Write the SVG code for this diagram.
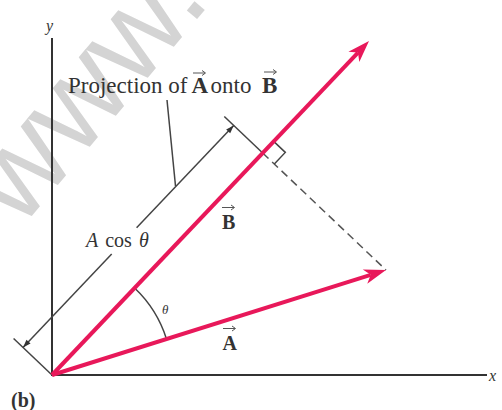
<svg xmlns="http://www.w3.org/2000/svg" xmlns:xlink="http://www.w3.org/1999/xlink" width="502" height="410" viewBox="0 0 502 410">
  <style>
    .axis { stroke: #333; stroke-width: 2; fill: none; }
    .vec { stroke: #e8185a; stroke-width: 4; fill: none; }
    .vechead { fill: #e8185a; }
    .thin { stroke: #444; stroke-width: 1.5; fill: none; }
    .dash { stroke: #555; stroke-width: 1.5; fill: none; stroke-dasharray: 8 5; }
    .lbl { font-family: "Liberation Serif", "Times New Roman", serif; fill: #333; }
    .it { font-style: italic; }
    .bold { font-weight: bold; }
    .varrow { stroke: #555; stroke-width: 1; fill: none; }
    .wm { font-family: "Liberation Sans", Arial, sans-serif; fill: #d4d4d4; }
  </style>
  <defs>
    <path id="head" d="M0,0 L-22,-7.5 L-16,0 L-22,7.5 Z"/>
    <path id="dimhead" d="M0,0 L-8,-2.8 L-8,2.8 Z"/>
    <path id="varr" d="M0,0 H12 M9,-2.5 L12.5,0 L9,2.5"/>
  </defs>
  <rect width="502" height="410" fill="#ffffff"/>

  <!-- watermark -->
  <text class="wm" font-size="125" transform="translate(20,230) rotate(-50)">www.</text>

  <g id="axes">
    <line class="axis" x1="52" y1="38" x2="52" y2="376"/>
    <line class="axis" x1="51" y1="375" x2="487" y2="375"/>
    <text class="lbl it" x="46" y="31" font-size="16" fill="#666">y</text>
    <text class="lbl it" x="489" y="381" font-size="16">x</text>
  </g>

  <g id="connectors">
    <!-- extension lines -->
    <line class="thin" x1="52" y1="375" x2="13.6" y2="338.5"/>
    <line class="thin" x1="262.7" y1="153" x2="224.3" y2="116.5"/>
    <!-- dimension line -->
    <line class="thin" x1="23" y1="347.5" x2="111.7" y2="254.1"/>
    <line class="thin" x1="136.6" y1="227.8" x2="233.7" y2="125.5"/>
    <use href="#dimhead" fill="#333" transform="translate(23,347.5) rotate(133.5)"/>
    <use href="#dimhead" fill="#333" transform="translate(233.7,125.5) rotate(-46.5)"/>
    <!-- leader -->
    <line class="thin" x1="167" y1="100" x2="175.5" y2="186"/>
    <!-- dashed perpendicular -->
    <line class="dash" x1="262.7" y1="153" x2="386" y2="270"/>
    <!-- right angle marker -->
    <path class="thin" d="M273.7,141.4 L285.3,152.4 L274.3,164"/>
    <!-- angle arc -->
    <path class="thin" d="M134.6,288 A120,120 0 0,1 166.5,339"/>
  </g>

  <g id="vectorB">
    <line class="vec" x1="52" y1="375" x2="358" y2="52.6"/>
    <use href="#head" class="vechead" transform="translate(369,41) rotate(-46.5)"/>
    <text class="lbl bold" x="222" y="228.5" font-size="20">B</text>
    <use href="#varr" class="varrow" transform="translate(222,207.5)"/>
  </g>

  <g id="vectorA">
    <line class="vec" x1="52" y1="375" x2="370.7" y2="274.8"/>
    <use href="#head" class="vechead" transform="translate(386,270) rotate(-17.45)"/>
    <text class="lbl bold" x="222.5" y="350" font-size="20">A</text>
    <use href="#varr" class="varrow" transform="translate(223,328.5)"/>
  </g>

  <g id="labels">
    <text class="lbl" font-size="23" y="92.5"><tspan x="68">Projection of</tspan><tspan x="191.5" class="bold">A</tspan><tspan x="210.5">onto</tspan><tspan x="262" class="bold">B</tspan></text>
    <use href="#varr" class="varrow" transform="translate(193,73)"/>
    <use href="#varr" class="varrow" transform="translate(264,72)"/>
    <text class="lbl" x="86" y="247" font-size="20" word-spacing="2" fill="#555"><tspan class="it">A</tspan> cos <tspan class="it">θ</tspan></text>
    <text class="lbl it" x="162" y="314" font-size="13" fill="#555">θ</text>
    <text class="lbl bold" x="11" y="407" font-size="20">(b)</text>
  </g>
</svg>
